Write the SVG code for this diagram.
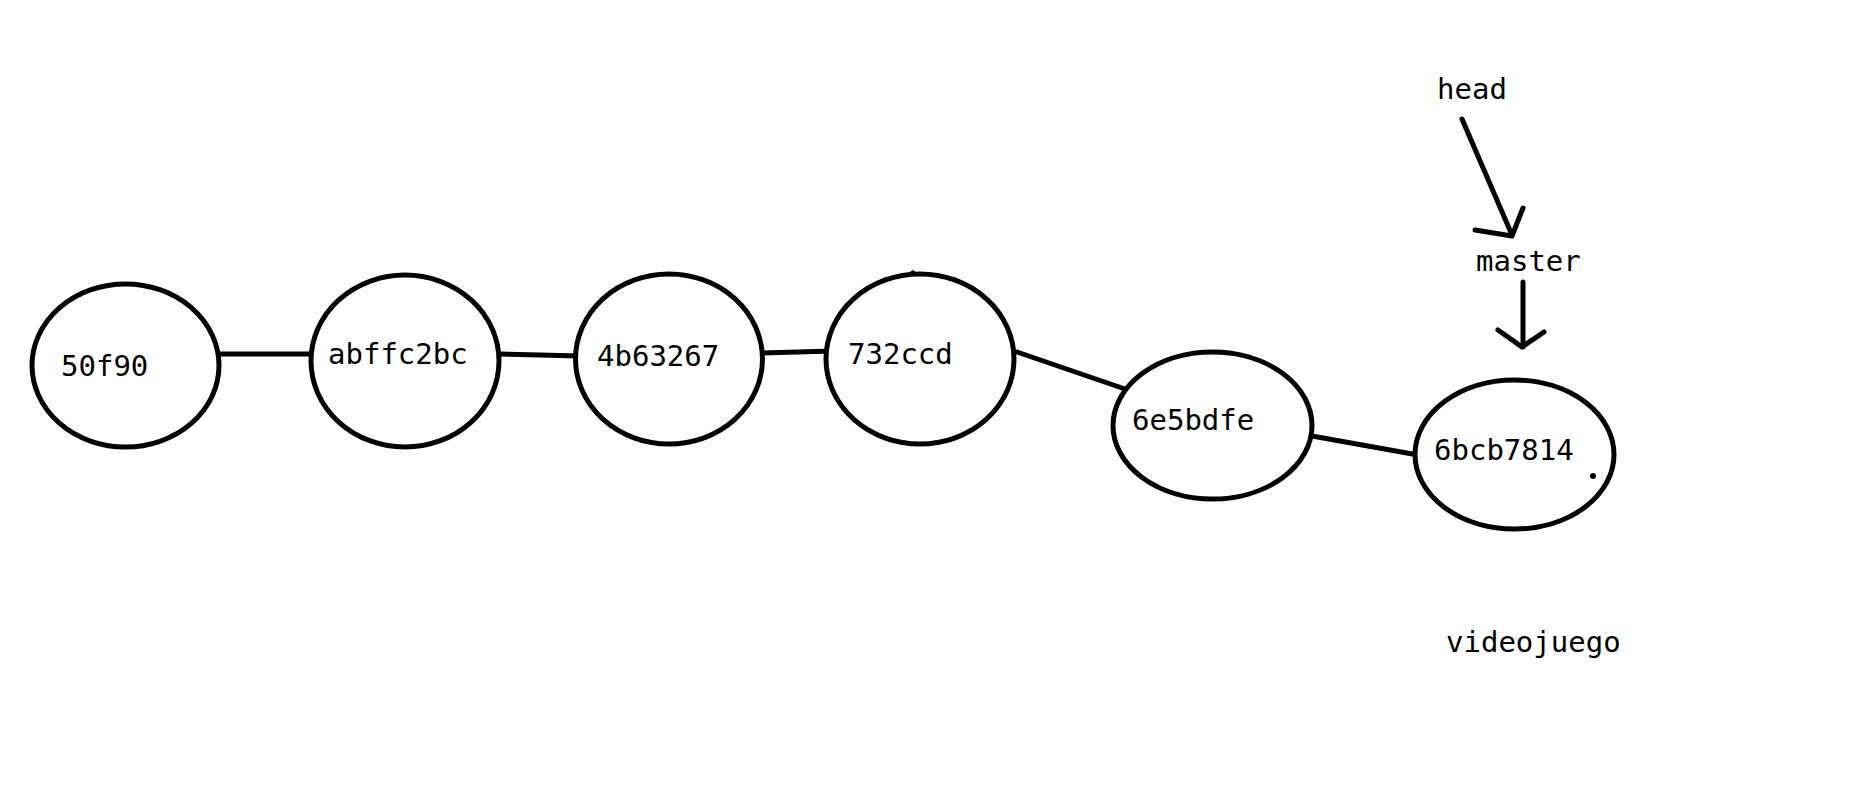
<svg xmlns="http://www.w3.org/2000/svg" width="1853" height="802" viewBox="0 0 1853 802">
<style>
.n{fill:#fff;stroke:#000;stroke-width:5}
.t{font-family:"DejaVu Sans Mono","Liberation Mono",monospace;font-size:29px;fill:#000}
.c{fill:none;stroke:#000;stroke-width:5;stroke-linecap:round;stroke-linejoin:round}
.d{fill:#000}
</style>
<rect width="1853" height="802" fill="#fff"/>
<g id="connectors">
<line class="c" x1="219" y1="354" x2="314" y2="354"/>
<polyline class="c" points="499,354 540,355 579,356"/>
<line class="c" x1="762" y1="353" x2="833" y2="351"/>
<line class="c" x1="1017" y1="352" x2="1125" y2="389"/>
<line class="c" x1="1312" y1="436" x2="1418" y2="455"/>
<circle class="d" cx="314" cy="354" r="3.5"/>
<circle class="d" cx="579" cy="356" r="3.5"/>
<circle class="d" cx="833" cy="351" r="3.5"/>
<circle class="d" cx="1418" cy="455" r="3.5"/>
<g id="arrow-head-master">
<line class="c" x1="1462" y1="119" x2="1512" y2="235"/>
<polyline class="c" points="1475,230 1512,236 1523,208"/>
</g>
<g id="arrow-master-commit">
<line class="c" x1="1523" y1="282" x2="1523" y2="347"/>
<polyline class="c" points="1498,330 1522,347 1544,332"/>
</g>
</g>
<g id="n50f90">
<ellipse class="n" cx="125.5" cy="365.5" rx="93.5" ry="81.5"/>
<text class="t" x="61" y="376">50f90</text>
</g>
<g id="nabffc2bc">
<ellipse class="n" cx="405" cy="361" rx="94" ry="86"/>
<text class="t" x="328" y="364">abffc2bc</text>
</g>
<g id="n4b63267">
<ellipse class="n" cx="669" cy="359" rx="93.5" ry="85"/>
<text class="t" x="597" y="366">4b63267</text>
</g>
<g id="n732ccd">
<ellipse class="n" cx="920" cy="359" rx="94" ry="85"/>
<path class="d" d="M905,275 L913,270 L920,275 Z"/>
<text class="t" x="848" y="364">732ccd</text>
</g>
<g id="n6e5bdfe">
<ellipse class="n" cx="1212.5" cy="425.5" rx="99.5" ry="73.5"/>
<text class="t" x="1132" y="430">6e5bdfe</text>
</g>
<g id="n6bcb7814">
<ellipse class="n" cx="1514.5" cy="454.5" rx="99.5" ry="74.5"/>
<text class="t" x="1434" y="460">6bcb7814</text>
<circle class="d" cx="1593" cy="476" r="3"/>
</g>
<g id="head">
<text class="t" x="1437" y="99">head</text>
</g>
<g id="master">
<text class="t" x="1476" y="271">master</text>
</g>
<g id="videojuego">
<text class="t" x="1446" y="652">videojuego</text>
</g>
</svg>
